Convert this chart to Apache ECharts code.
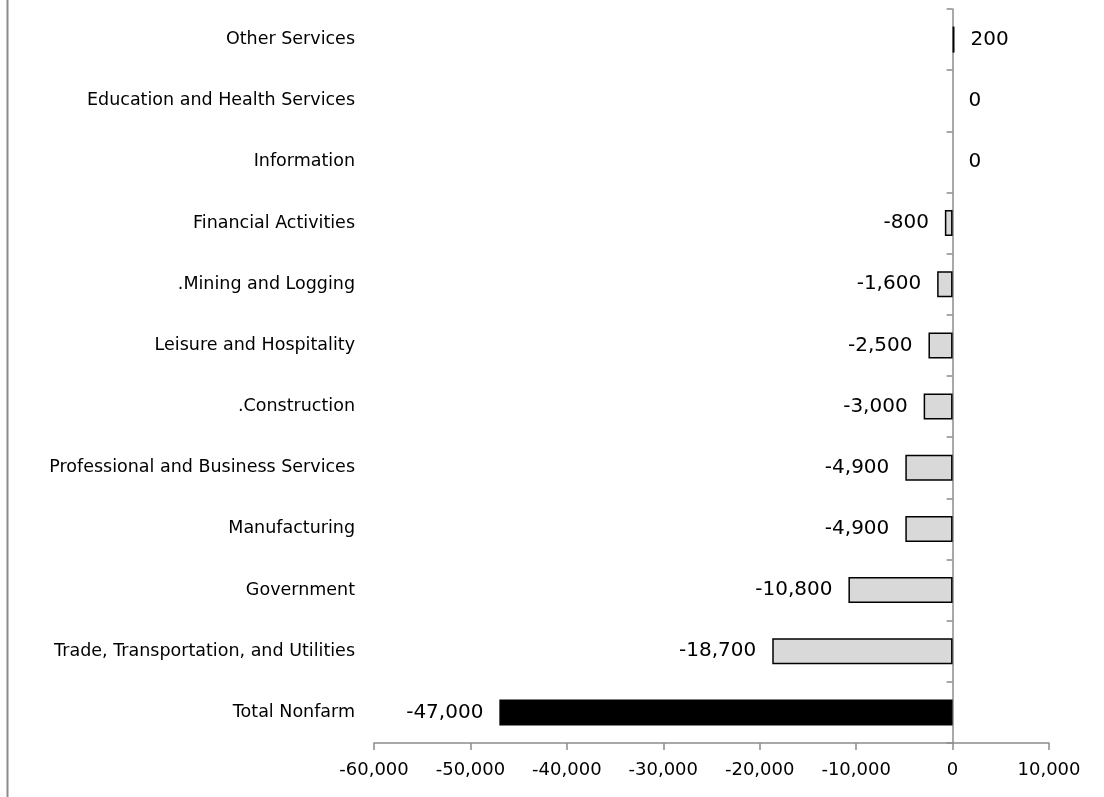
<!DOCTYPE html>
<html>
<head>
<meta charset="utf-8">
<script src="https://cdn.jsdelivr.net/npm/echarts@6/dist/echarts.min.js"></script>
<style>
  html, body { margin: 0; padding: 0; background: #fff; }
  #chart { width: 1104px; height: 797px; }
</style>
</head>
<body>
<div id="chart"></div>
<script>
// Job change by industry, listed bottom to top
const categories = [
  'Total Nonfarm',
  'Trade, Transportation, and Utilities',
  'Government',
  'Manufacturing',
  'Professional and Business Services',
  '.Construction',
  'Leisure and Hospitality',
  '.Mining and Logging',
  'Financial Activities',
  'Information',
  'Education and Health Services',
  'Other Services'
];
const changes = [-47000, -18700, -10800, -4900, -4900, -3000, -2500, -1600, -800, 0, 0, 200];
const xTicks = { min: -60000, max: 10000, step: 10000 };

const FONT = '"DejaVu Sans", Lato, sans-serif';
const AXIS_GRAY = '#8c8c8c';

const fmt = v => v.toLocaleString('en-US');

// the total row is drawn solid black; zero rows get no outline
const barData = changes.map((v, i) => ({
  value: v,
  itemStyle: i === 0
    ? { color: '#000000', borderColor: '#000000' }
    : (v === 0 ? { borderWidth: 0 } : {}),
  label: { position: v >= 0 ? 'right' : 'left' }
}));

const chart = echarts.init(document.getElementById('chart'), null, { renderer: 'canvas' });
chart.setOption({
  animation: false,
  backgroundColor: '#ffffff',
  grid: { left: 374, right: 55, top: 9, bottom: 54, containLabel: false },
  xAxis: {
    type: 'value',
    min: xTicks.min,
    max: xTicks.max,
    interval: xTicks.step,
    splitLine: { show: false },
    axisLine: { show: true, onZero: false, lineStyle: { color: AXIS_GRAY, width: 1.5 } },
    axisTick: { show: true, length: 7, lineStyle: { color: AXIS_GRAY, width: 1.5 } },
    axisLabel: {
      margin: 18,
      color: '#000',
      fontFamily: FONT,
      fontSize: 18,
      formatter: v => fmt(v)
    }
  },
  yAxis: [
    {
      type: 'category',
      data: categories,
      position: 'left',
      axisLine: { show: false, onZero: false },
      axisTick: { show: false },
      axisLabel: { margin: 19, color: '#000', fontFamily: FONT, fontSize: 17.5 }
    },
    {
      type: 'category',
      data: categories,
      position: 'left',
      axisLine: { show: true, onZero: true, lineStyle: { color: AXIS_GRAY, width: 1.5 } },
      axisTick: { show: true, length: 6, lineStyle: { color: AXIS_GRAY, width: 1.5 } },
      axisLabel: { show: false }
    }
  ],
  series: [{
    type: 'bar',
    yAxisIndex: 0,
    data: barData,
    barWidth: 26,
    itemStyle: { color: '#d9d9d9', borderColor: '#000000', borderWidth: 1.5 },
    label: {
      show: true,
      distance: 16,
      color: '#000',
      fontFamily: FONT,
      fontSize: 20,
      formatter: p => fmt(p.value)
    },
    z: 1
  }],
  graphic: [{
    type: 'line',
    shape: { x1: 7.5, y1: 0, x2: 7.5, y2: 797 },
    style: { stroke: AXIS_GRAY, lineWidth: 2 }
  }]
});
</script>
</body>
</html>
